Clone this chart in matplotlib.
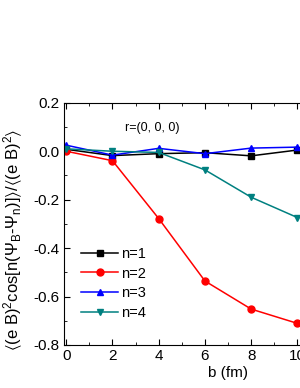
import matplotlib
matplotlib.use("Agg")
import matplotlib.pyplot as plt
from matplotlib.ticker import MultipleLocator

plt.rcParams['font.family'] = ['Liberation Sans', 'DejaVu Sans']
plt.rcParams['mathtext.default'] = 'regular'

b = [0, 2, 4, 6, 8, 10]
n1 = [0.008, -0.018, -0.01, -0.006, -0.019, 0.005]
n2 = [0.0, -0.039, -0.278, -0.536, -0.652, -0.711]
n3 = [0.025, -0.016, 0.012, -0.01, 0.013, 0.017]
n4 = [0.01, 0.0, -0.005, -0.077, -0.19, -0.274]

fig = plt.figure(figsize=(3.0, 3.88), dpi=100)
ax = fig.add_axes([0.213, 0.111, 0.817, 0.624])

ax.plot(b, n1, color='black', marker='s', ms=4.5, lw=1.1, label='n=1')
ax.plot(b, n2, color='red', marker='o', ms=5, lw=1.1, label='n=2')
ax.plot(b, n3, color='blue', marker='^', ms=5, lw=1.1, label='n=3')
ax.plot(b, n4, color='#008080', marker='v', ms=5, lw=1.1, label='n=4')

ax.set_xlim(-0.1, 10.5)
ax.set_ylim(-0.8, 0.2)
ax.xaxis.set_major_locator(MultipleLocator(2))
ax.xaxis.set_minor_locator(MultipleLocator(1))
ax.yaxis.set_major_locator(MultipleLocator(0.2))
ax.yaxis.set_minor_locator(MultipleLocator(0.1))
ax.yaxis.set_major_formatter(plt.FuncFormatter(lambda v, p: f"{v:.1f}"))
ax.tick_params(which='both', direction='in', top=True, right=True, labelsize=11)
ax.tick_params(which='major', length=4, pad=3)
ax.tick_params(which='minor', length=2.5)

ax.text(2.55, 0.095, 'r=(0, 0, 0)', fontsize=9, va='center')
ax.set_xlabel('b (fm)', fontsize=11)
ax.xaxis.set_label_coords(0.67, -0.085)
ax.set_ylabel(r'$\langle$(e B)$^2$cos[n($\Psi_B$-$\Psi_n$)]$\rangle$/$\langle$(e B)$^2\rangle$',
              fontsize=12)
ax.yaxis.set_label_coords(-0.16, 0.434)
ax.legend(loc='lower left', bbox_to_anchor=(0.03, 0.06), frameon=False, fontsize=10.5,
          handlelength=2.5, handletextpad=0.2, labelspacing=0.4, borderaxespad=0.3)

fig.savefig('out.png', dpi=100)
